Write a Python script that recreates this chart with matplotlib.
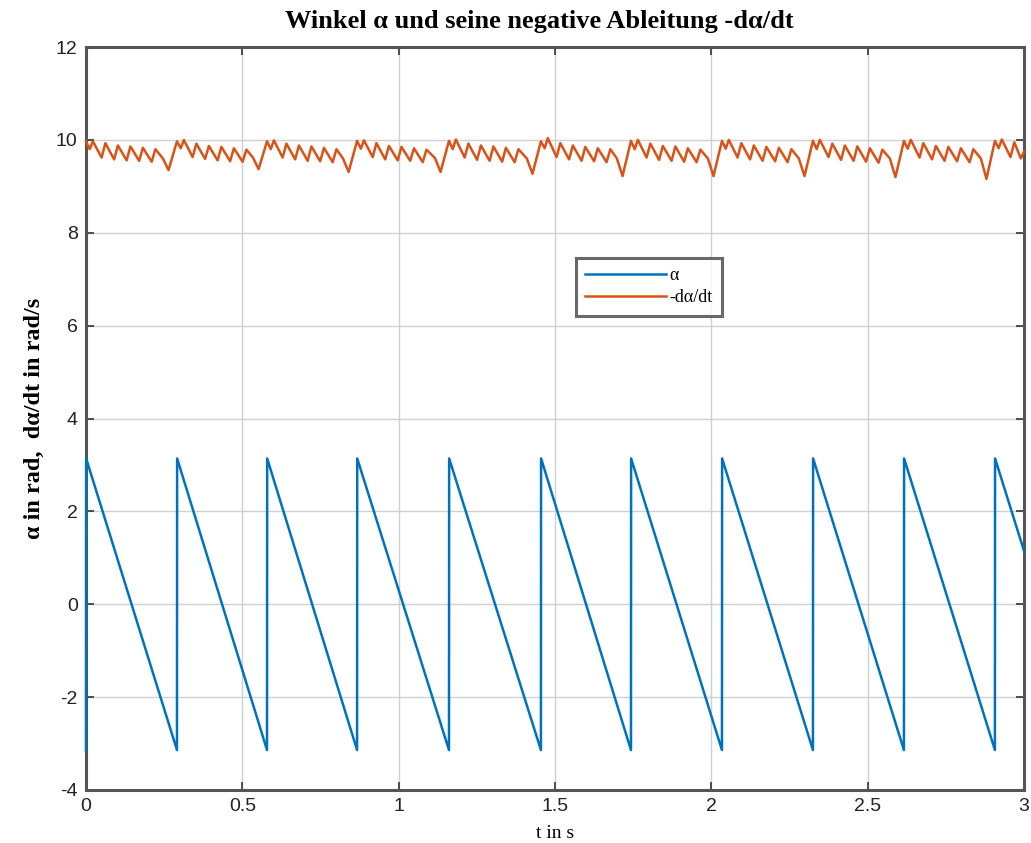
import matplotlib
matplotlib.use("Agg")
import matplotlib.pyplot as plt
import numpy as np

plt.rcParams["axes.unicode_minus"] = False

# --- data -------------------------------------------------------------
# alpha sawtooth vertices (jumps from -pi to +pi)
alpha_t = [0.0, 0.0005,
           0.291, 0.2915, 0.579, 0.5795, 0.867, 0.8675, 1.161, 1.1615,
           1.455, 1.4555, 1.743, 1.7435, 2.034, 2.0345, 2.325, 2.3255,
           2.616, 2.6165, 2.907, 2.9075, 3.0]
alpha_v = [-3.14, 3.14,
           -3.14, 3.14, -3.14, 3.14, -3.14, 3.14, -3.14, 3.14,
           -3.14, 3.14, -3.14, 3.14, -3.14, 3.14, -3.14, 3.14,
           -3.14, 3.14, -3.14, 3.14, 1.15]

# -dalpha/dt vertices
dadt_t = [
    0.000, 0.012, 0.022, 0.050, 0.062, 0.090, 0.102, 0.130, 0.142, 0.170, 0.182, 0.210, 0.222, 0.246, 0.264,
    0.291, 0.303, 0.313, 0.341, 0.353, 0.381, 0.393, 0.421, 0.433, 0.461, 0.473, 0.501, 0.513, 0.534, 0.552,
    0.579, 0.591, 0.601, 0.629, 0.641, 0.669, 0.681, 0.709, 0.721, 0.749, 0.761, 0.789, 0.801, 0.822, 0.840,
    0.867, 0.879, 0.889, 0.917, 0.929, 0.957, 0.969, 0.997, 1.009, 1.037, 1.049, 1.077, 1.089, 1.116, 1.134,
    1.161, 1.173, 1.183, 1.211, 1.223, 1.251, 1.263, 1.291, 1.303, 1.331, 1.343, 1.371, 1.383, 1.410, 1.428,
    1.455, 1.467, 1.477, 1.505, 1.517, 1.545, 1.557, 1.585, 1.597, 1.625, 1.637, 1.665, 1.677, 1.698, 1.716,
    1.743, 1.755, 1.765, 1.793, 1.805, 1.833, 1.845, 1.873, 1.885, 1.913, 1.925, 1.953, 1.965, 1.989, 2.007,
    2.034, 2.046, 2.056, 2.084, 2.096, 2.124, 2.136, 2.164, 2.176, 2.204, 2.216, 2.244, 2.256, 2.280, 2.298,
    2.325, 2.337, 2.347, 2.375, 2.387, 2.415, 2.427, 2.455, 2.467, 2.495, 2.507, 2.535, 2.547, 2.571, 2.589,
    2.616, 2.628, 2.638, 2.666, 2.678, 2.706, 2.718, 2.746, 2.758, 2.786, 2.798, 2.826, 2.838, 2.862, 2.880,
    2.907, 2.919, 2.929, 2.957, 2.969, 2.990, 3.000]
dadt_v = [
    9.97, 9.80, 9.97, 9.62, 9.93, 9.58, 9.88, 9.56, 9.86, 9.55, 9.83, 9.53, 9.80, 9.60, 9.35,
    9.97, 9.82, 10.00, 9.63, 9.92, 9.59, 9.87, 9.56, 9.85, 9.54, 9.82, 9.53, 9.79, 9.62, 9.37,
    9.97, 9.80, 9.99, 9.62, 9.92, 9.58, 9.88, 9.55, 9.86, 9.54, 9.83, 9.52, 9.80, 9.60, 9.31,
    9.98, 9.81, 9.99, 9.63, 9.93, 9.58, 9.87, 9.56, 9.85, 9.55, 9.82, 9.52, 9.79, 9.61, 9.31,
    9.98, 9.80, 10.01, 9.62, 9.92, 9.57, 9.88, 9.55, 9.86, 9.53, 9.83, 9.52, 9.80, 9.60, 9.27,
    9.97, 9.82, 10.04, 9.63, 9.93, 9.58, 9.88, 9.55, 9.85, 9.54, 9.82, 9.52, 9.80, 9.60, 9.22,
    9.98, 9.80, 10.00, 9.62, 9.92, 9.57, 9.87, 9.55, 9.86, 9.53, 9.82, 9.52, 9.79, 9.60, 9.22,
    9.98, 9.81, 10.00, 9.62, 9.93, 9.58, 9.88, 9.55, 9.85, 9.54, 9.83, 9.52, 9.80, 9.60, 9.22,
    9.98, 9.80, 10.00, 9.63, 9.92, 9.57, 9.88, 9.55, 9.86, 9.53, 9.82, 9.51, 9.79, 9.60, 9.20,
    9.98, 9.81, 10.00, 9.62, 9.93, 9.58, 9.87, 9.55, 9.85, 9.54, 9.82, 9.52, 9.80, 9.60, 9.16,
    9.98, 9.82, 10.01, 9.63, 9.95, 9.60, 9.75]

title = "Winkel \u03b1 und seine negative Ableitung -d\u03b1/dt"
xlabel = "t in s"
ylabel = "\u03b1 in rad,  d\u03b1/dt in rad/s"
legend_labels = ["\u03b1", "-d\u03b1/dt"]
xticks = [0, 0.5, 1, 1.5, 2, 2.5, 3]
xticklabels = ["0", "0.5", "1", "1.5", "2", "2.5", "3"]
yticks = [-4, -2, 0, 2, 4, 6, 8, 10, 12]

# --- plot -------------------------------------------------------------
fig = plt.figure(figsize=(10.31, 8.43), dpi=100)
ax = fig.add_axes([0.0834, 0.0629, 0.9098, 0.8813])

ax.plot(alpha_t, alpha_v, color="#0072BD", lw=1.8, label=legend_labels[0],
        zorder=3, clip_on=False)
ax.plot(dadt_t, dadt_v, color="#D95319", lw=1.8, label=legend_labels[1],
        zorder=3, clip_on=False)

ax.set_xlim(0, 3)
ax.set_ylim(-4, 12)
ax.set_xticks(xticks)
ax.set_xticklabels(xticklabels)
ax.set_yticks(yticks)
ax.grid(True, color="#d0d0d0", lw=1.0)
ax.set_axisbelow(True)
for s in ax.spines.values():
    s.set_color("#555555")
    s.set_linewidth(2.2)
    s.set_zorder(2.5)
ax.tick_params(direction="in", length=6, width=1.2, color="#333333",
               top=True, right=True, labelsize=14, pad=6)
for lab in ax.get_xticklabels() + ax.get_yticklabels():
    lab.set_family("Liberation Sans")
    lab.set_color("#222222")

fig.text(0.523, 0.975, title, family="Liberation Serif", fontsize=19,
         fontweight="bold", ha="center", va="center")
ax.set_xlabel(xlabel, family="Liberation Serif", fontsize=14, labelpad=7)
ax.set_ylabel(ylabel, family="Liberation Serif", fontsize=17.5, fontweight="bold", labelpad=8)

leg = ax.legend(loc="upper left", bbox_to_anchor=(0.522, 0.716), frameon=True,
                fancybox=False, prop={"family": "Liberation Serif", "size": 13},
                handlelength=4.5, borderpad=0.5, labelspacing=0.3, handletextpad=0.2,
                borderaxespad=0)
leg.get_frame().set_edgecolor("#444444")
leg.get_frame().set_linewidth(2.2)

fig.savefig("out.png", dpi=100)
